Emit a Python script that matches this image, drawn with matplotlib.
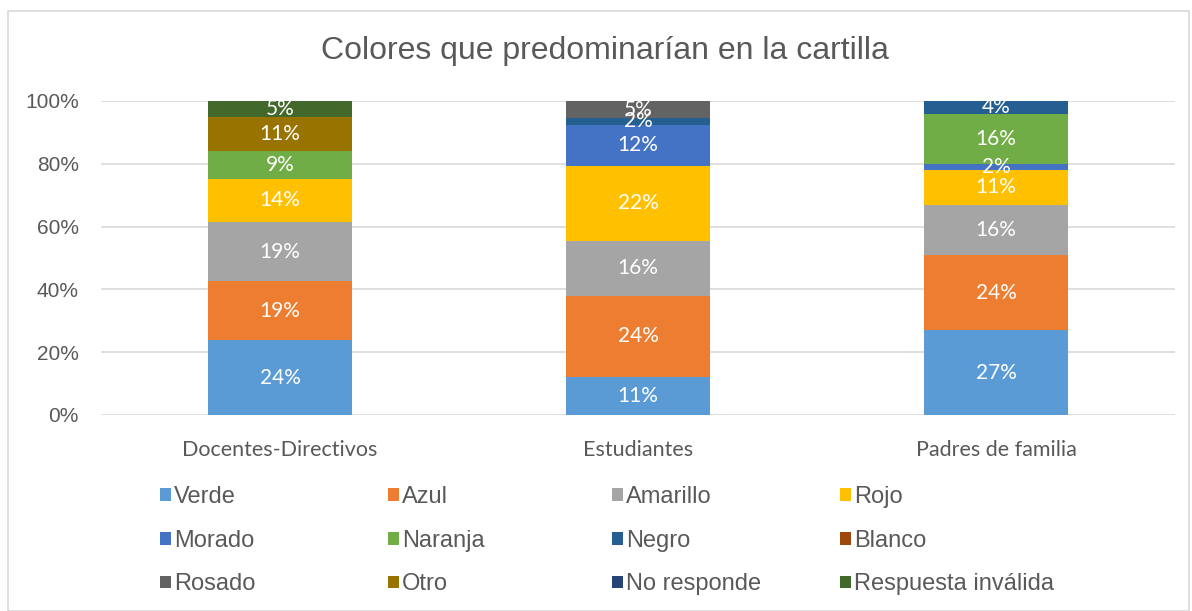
import matplotlib.pyplot as plt
from matplotlib.patches import Rectangle, Patch
import numpy as np

# Data (percent labels; bars are 100% stacked)
groups = ['Docentes-Directivos', 'Estudiantes', 'Padres de familia']
series = ['Verde', 'Azul', 'Amarillo', 'Rojo', 'Morado', 'Naranja',
          'Negro', 'Blanco', 'Rosado', 'Otro', 'No responde',
          'Respuesta inválida']
verde = [24, 11, 27]
azul = [19, 24, 24]
amarillo = [19, 16, 16]
rojo = [14, 22, 11]
morado = [0, 12, 2]
naranja = [9, 0, 16]
negro = [0, 2, 4]
blanco = [0, 0, 0]
rosado = [0, 5, 0]
otro = [11, 0, 0]
no_responde = [0, 0, 0]
invalida = [5, 0, 0]
yticks = [0, 20, 40, 60, 80, 100]

colors = ['#5B9BD5', '#ED7D31', '#A5A5A5', '#FFC000', '#4472C4', '#70AD47',
          '#255E91', '#9E480E', '#636363', '#997300', '#264478', '#43682B']

values = np.array([verde, azul, amarillo, rojo, morado, naranja, negro,
                   blanco, rosado, otro, no_responde, invalida], dtype=float)
totals = values.sum(axis=0)
shares = values / totals * 100

label_font = 'Lato'
text_font = 'Liberation Sans'
grey = '#595959'

fig = plt.figure(figsize=(11.92, 6.11), dpi=100)
fig.patches.append(Rectangle((8 / 1192, 0), 1181 / 1192, 1 - 11 / 611,
                             transform=fig.transFigure, fill=False,
                             edgecolor='#D9D9D9', linewidth=1.2))
ax = fig.add_axes([101 / 1192, 1 - 415 / 611, 1074 / 1192, 314 / 611])

x = np.arange(len(groups))
bottom = np.zeros(len(groups))
for name, val, sh, c in zip(series, values, shares, colors):
    ax.bar(x, sh, 0.4, bottom=bottom, color=c, label=name, zorder=2)
    for xi, v, s, b in zip(x, val, sh, bottom):
        if v > 0:
            ax.text(xi, b + s / 2, f'{v:.0f}%', ha='center', va='center',
                    color='white', fontsize=15, family=label_font, zorder=3)
    bottom += sh

ax.set_xlim(-0.5, 2.5)
ax.set_ylim(0, 100)
ax.set_yticks(yticks)
ax.set_yticklabels([f'{t}%' for t in yticks], family=text_font,
                   fontsize=15, color=grey)
ax.set_xticks(x)
ax.set_xticklabels(groups, family=label_font, fontsize=15.5, color=grey)
ax.tick_params(axis='both', length=0)
ax.tick_params(axis='x', pad=18)
ax.tick_params(axis='y', pad=16)
ax.grid(axis='y', color='#D9D9D9', linewidth=1.2, zorder=0)
for sp in ax.spines.values():
    sp.set_visible(False)

fig.text(605 / 1192, 1 - 51 / 611, 'Colores que predominarían en la cartilla',
         ha='center', va='center', fontsize=23, family=text_font, color=grey)

# legend: four columns, three rows (row-wise order)
col_x = [160, 388, 612, 840]
for j, cx in enumerate(col_x):
    idx = [j, j + 4, j + 8]
    handles = [Patch(facecolor=colors[i], edgecolor='none') for i in idx]
    leg = fig.legend(handles, [series[i] for i in idx], loc='upper left',
                     bbox_to_anchor=(cx / 1192, 1 - 486 / 611),
                     frameon=False, handlelength=0.45, handleheight=0.45,
                     handletextpad=0.15, labelspacing=0.92, borderpad=0,
                     borderaxespad=0,
                     prop={'family': text_font, 'size': 17})
    for t in leg.get_texts():
        t.set_color(grey)

fig.savefig('out.png', dpi=100)
